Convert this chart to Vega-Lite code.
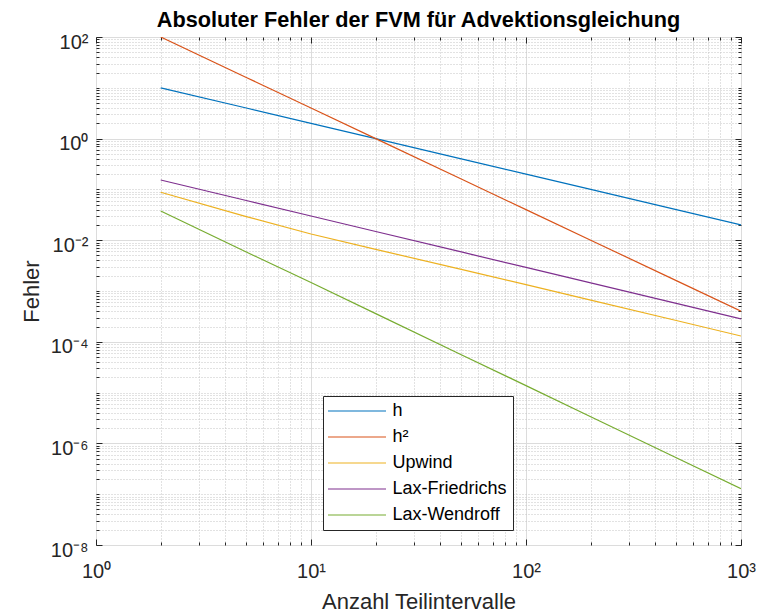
{
  "$schema": "https://vega.github.io/schema/vega-lite/v6.json",
  "autosize": "none",
  "width": 645,
  "height": 508,
  "padding": {"left": 96, "top": 37, "right": 19, "bottom": 67},
  "background": "white",
  "title": {
    "text": "Absoluter Fehler der FVM für Advektionsgleichung",
    "font": "Liberation Sans",
    "fontSize": 21.7,
    "fontWeight": "bold",
    "color": "#000000",
    "anchor": "middle",
    "baseline": "alphabetic",
    "offset": -17
  },
  "config": {
    "view": {"stroke": "#262626", "strokeWidth": 1},
    "axis": {"domain": false}
  },
  "data": {
    "values": [
      {"N": 2, "err": 10, "Verfahren": "h"},
      {"N": 5, "err": 4, "Verfahren": "h"},
      {"N": 10, "err": 2, "Verfahren": "h"},
      {"N": 20, "err": 1, "Verfahren": "h"},
      {"N": 50, "err": 0.4, "Verfahren": "h"},
      {"N": 100, "err": 0.2, "Verfahren": "h"},
      {"N": 200, "err": 0.1, "Verfahren": "h"},
      {"N": 500, "err": 0.04, "Verfahren": "h"},
      {"N": 1000, "err": 0.02, "Verfahren": "h"},
      {"N": 2, "err": 100, "Verfahren": "h²"},
      {"N": 5, "err": 16, "Verfahren": "h²"},
      {"N": 10, "err": 4, "Verfahren": "h²"},
      {"N": 20, "err": 1, "Verfahren": "h²"},
      {"N": 50, "err": 0.16, "Verfahren": "h²"},
      {"N": 100, "err": 0.04, "Verfahren": "h²"},
      {"N": 200, "err": 0.01, "Verfahren": "h²"},
      {"N": 500, "err": 0.0016, "Verfahren": "h²"},
      {"N": 1000, "err": 0.0004, "Verfahren": "h²"},
      {"N": 2, "err": 0.0877, "Verfahren": "Upwind"},
      {"N": 5, "err": 0.0292, "Verfahren": "Upwind"},
      {"N": 10, "err": 0.01324, "Verfahren": "Upwind"},
      {"N": 20, "err": 0.0066, "Verfahren": "Upwind"},
      {"N": 50, "err": 0.00266, "Verfahren": "Upwind"},
      {"N": 100, "err": 0.00133, "Verfahren": "Upwind"},
      {"N": 200, "err": 0.00066, "Verfahren": "Upwind"},
      {"N": 500, "err": 0.000263, "Verfahren": "Upwind"},
      {"N": 1000, "err": 0.00013, "Verfahren": "Upwind"},
      {"N": 2, "err": 0.153, "Verfahren": "Lax-Friedrichs"},
      {"N": 5, "err": 0.0605, "Verfahren": "Lax-Friedrichs"},
      {"N": 10, "err": 0.030, "Verfahren": "Lax-Friedrichs"},
      {"N": 20, "err": 0.01486, "Verfahren": "Lax-Friedrichs"},
      {"N": 50, "err": 0.00587, "Verfahren": "Lax-Friedrichs"},
      {"N": 100, "err": 0.00291, "Verfahren": "Lax-Friedrichs"},
      {"N": 200, "err": 0.00144, "Verfahren": "Lax-Friedrichs"},
      {"N": 500, "err": 0.00057, "Verfahren": "Lax-Friedrichs"},
      {"N": 1000, "err": 0.000282, "Verfahren": "Lax-Friedrichs"},
      {"N": 2, "err": 0.0376, "Verfahren": "Lax-Wendroff"},
      {"N": 5, "err": 0.00585, "Verfahren": "Lax-Wendroff"},
      {"N": 10, "err": 0.00147, "Verfahren": "Lax-Wendroff"},
      {"N": 20, "err": 0.000359, "Verfahren": "Lax-Wendroff"},
      {"N": 50, "err": 0.0000558, "Verfahren": "Lax-Wendroff"},
      {"N": 100, "err": 0.0000137, "Verfahren": "Lax-Wendroff"},
      {"N": 200, "err": 0.00000335, "Verfahren": "Lax-Wendroff"},
      {"N": 500, "err": 0.000000521, "Verfahren": "Lax-Wendroff"},
      {"N": 1000, "err": 0.000000128, "Verfahren": "Lax-Wendroff"}
    ]
  },
  "resolve": {"axis": {"x": "independent", "y": "independent"}},
  "layer": [
    {
      "mark": {"type": "line", "strokeWidth": 1.2, "clip": true},
      "encoding": {
        "x": {
          "field": "N", "type": "quantitative",
          "scale": {"type": "log", "domain": [1, 1000], "nice": false},
          "axis": {
            "orient": "bottom",
            "values": [1,2,3,4,5,6,7,8,9,10,20,30,40,50,60,70,80,90,100,200,300,400,500,600,700,800,900,1000],
            "labelExpr": "datum.value == 1 ? '10⁰' : datum.value == 10 ? '10¹' : datum.value == 100 ? '10²' : datum.value == 1000 ? '10³' : ''",
            "labelFont": "Liberation Sans", "labelFontSize": 20, "labelColor": "#262626",
            "labelBaseline": "alphabetic", "labelPadding": 38, "labelFlush": false, "labelOverlap": false,
            "tickColor": "#262626", "tickSize": {"condition": {"test": "datum.value == 1 || datum.value == 10 || datum.value == 100 || datum.value == 1000", "value": -6}, "value": -3},
            "grid": true,
            "gridColor": {"condition": {"test": "datum.value == 1 || datum.value == 10 || datum.value == 100 || datum.value == 1000", "value": "#dcdcdc"}, "value": "#c4c4c4"},
            "gridDash": {"condition": {"test": "datum.value == 1 || datum.value == 10 || datum.value == 100 || datum.value == 1000", "value": []}, "value": [1, 2]},
            "title": "Anzahl Teilintervalle",
            "titleFont": "Liberation Sans", "titleFontSize": 22, "titleFontWeight": "normal", "titleColor": "#262626",
            "titleX": 322.5, "titleY": 63, "titleBaseline": "alphabetic", "titleAlign": "center"
          }
        },
        "y": {
          "field": "err", "type": "quantitative",
          "scale": {"type": "log", "domain": [1e-8, 100], "nice": false},
          "axis": {
            "orient": "left",
            "values": [1e-8,2e-8,3e-8,4e-8,5e-8,6e-8,7e-8,8e-8,9e-8,1e-7,2e-7,3e-7,4e-7,5e-7,6e-7,7e-7,8e-7,9e-7,1e-6,2e-6,3e-6,4e-6,5e-6,6e-6,7e-6,8e-6,9e-6,1e-5,2e-5,3e-5,4e-5,5e-5,6e-5,7e-5,8e-5,9e-5,1e-4,2e-4,3e-4,4e-4,5e-4,6e-4,7e-4,8e-4,9e-4,0.001,0.002,0.003,0.004,0.005,0.006,0.007,0.008,0.009,0.01,0.02,0.03,0.04,0.05,0.06,0.07,0.08,0.09,0.1,0.2,0.3,0.4,0.5,0.6,0.7,0.8,0.9,1,2,3,4,5,6,7,8,9,10,20,30,40,50,60,70,80,90,100],
            "labelExpr": "datum.value == 100 ? '10²' : datum.value == 1 ? '10⁰' : datum.value == 0.01 ? '10⁻²' : datum.value == 1e-4 ? '10⁻⁴' : datum.value == 1e-6 ? '10⁻⁶' : datum.value == 1e-8 ? '10⁻⁸' : ''",
            "labelFont": "Liberation Sans", "labelFontSize": 20, "labelColor": "#262626",
            "labelBaseline": "middle", "labelOffset": 5, "labelPadding": 14, "labelFlush": false, "labelOverlap": false,
            "tickColor": "#262626", "tickSize": {"condition": {"test": "datum.value == 100 || datum.value == 1 || datum.value == 0.01 || datum.value == 1e-4 || datum.value == 1e-6 || datum.value == 1e-8", "value": -6}, "value": -3},
            "grid": true,
            "gridColor": {"condition": {"test": "datum.value == 100 || datum.value == 1 || datum.value == 0.01 || datum.value == 1e-4 || datum.value == 1e-6 || datum.value == 1e-8", "value": "#dcdcdc"}, "value": "#c4c4c4"},
            "gridDash": {"condition": {"test": "datum.value == 100 || datum.value == 1 || datum.value == 0.01 || datum.value == 1e-4 || datum.value == 1e-6 || datum.value == 1e-8", "value": []}, "value": [1, 2]},
            "title": "Fehler",
            "titleFont": "Liberation Sans", "titleFontSize": 22, "titleFontWeight": "normal", "titleColor": "#262626",
            "titleX": -58, "titleY": 254, "titleBaseline": "alphabetic", "titleAlign": "center", "titleAngle": -90
          }
        },
        "color": {
          "field": "Verfahren", "type": "nominal",
          "scale": {
            "domain": ["h", "h²", "Upwind", "Lax-Friedrichs", "Lax-Wendroff"],
            "range": ["#0072BD", "#D95319", "#EDB120", "#7E2F8E", "#77AC30"]
          },
          "legend": {
            "title": null,
            "orient": "none",
            "legendX": 227,
            "legendY": 359,
            "direction": "vertical",
            "fillColor": "white",
            "strokeColor": "#262626",
            "padding": 6,
            "symbolType": "M-5,0H5",
            "symbolSize": 134.6,
            "symbolOffset": 19,
            "symbolStrokeWidth": 1.2,
            "labelFont": "Liberation Sans",
            "labelFontSize": 18,
            "labelColor": "#000000",
            "labelOffset": 26.4,
            "rowPadding": 8,
            "labelLimit": 300
          }
        }
      }
    },
    {
      "mark": {"type": "line", "strokeOpacity": 0},
      "encoding": {
        "x": {
          "field": "N", "type": "quantitative",
          "axis": {
            "orient": "top",
            "values": [1,2,3,4,5,6,7,8,9,10,20,30,40,50,60,70,80,90,100,200,300,400,500,600,700,800,900,1000],
            "labels": false, "grid": false, "title": null,
            "tickColor": "#262626", "tickSize": {"condition": {"test": "datum.value == 1 || datum.value == 10 || datum.value == 100 || datum.value == 1000", "value": -6}, "value": -3}
          }
        },
        "y": {
          "field": "err", "type": "quantitative",
          "axis": {
            "orient": "right",
            "values": [1e-8,2e-8,3e-8,4e-8,5e-8,6e-8,7e-8,8e-8,9e-8,1e-7,2e-7,3e-7,4e-7,5e-7,6e-7,7e-7,8e-7,9e-7,1e-6,2e-6,3e-6,4e-6,5e-6,6e-6,7e-6,8e-6,9e-6,1e-5,2e-5,3e-5,4e-5,5e-5,6e-5,7e-5,8e-5,9e-5,1e-4,2e-4,3e-4,4e-4,5e-4,6e-4,7e-4,8e-4,9e-4,0.001,0.002,0.003,0.004,0.005,0.006,0.007,0.008,0.009,0.01,0.02,0.03,0.04,0.05,0.06,0.07,0.08,0.09,0.1,0.2,0.3,0.4,0.5,0.6,0.7,0.8,0.9,1,2,3,4,5,6,7,8,9,10,20,30,40,50,60,70,80,90,100],
            "labels": false, "grid": false, "title": null,
            "tickColor": "#262626", "tickSize": {"condition": {"test": "datum.value == 100 || datum.value == 1 || datum.value == 0.01 || datum.value == 1e-4 || datum.value == 1e-6 || datum.value == 1e-8", "value": -6}, "value": -3}
          }
        }
      }
    }
  ]
}
